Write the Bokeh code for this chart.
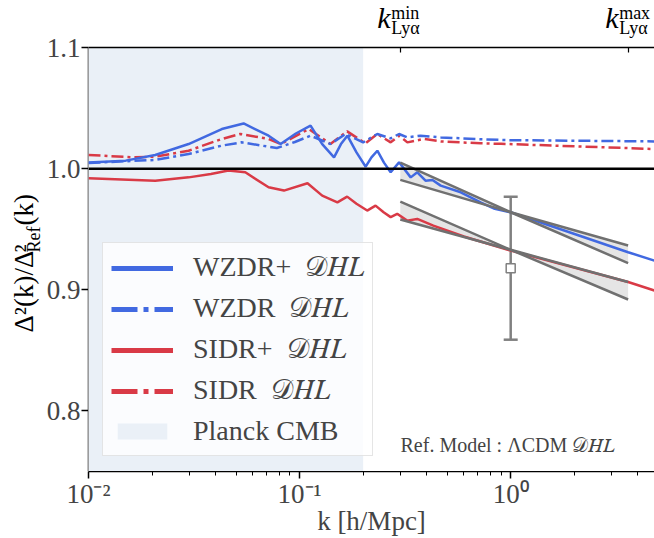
from bokeh.plotting import figure
from bokeh.layouts import row, column
from bokeh.models import (LogAxis, FixedTicker, Legend, LegendItem, Label, Span,
                          Whisker, TeeHead, ColumnDataSource, NumeralTickFormatter,
                          CustomJSTickFormatter, Range1d)
from bokeh.core.properties import value
from bokeh.embed import file_html
from bokeh.resources import INLINE

# ---------------- data ----------------
x_limits = [0.01, 4.8]
y_limits = [0.75, 1.1]
y_ticks = [0.8, 0.9, 1.0, 1.1]
x_major = [0.01, 0.1, 1.0]
ref_level = 1.0
planck_k = [0.01, 0.2]
lya_k = [0.3, 3.6]

# WZDR+ DHL (solid blue)
k_wzdrp = [0.010, 0.015, 0.0207, 0.0298, 0.0428, 0.0543, 0.0713, 0.0813, 0.096, 0.1127,
           0.128, 0.1456, 0.157, 0.1684, 0.186, 0.2056, 0.219, 0.2335, 0.251, 0.270,
           0.296, 0.336, 0.361, 0.395, 0.426, 0.466, 0.58, 0.72, 0.84, 1.0, 3.6, 4.8]
r_wzdrp = [1.0050, 1.0066, 1.0113, 1.0203, 1.0327, 1.0373, 1.0272, 1.0203, 1.0290, 1.0355,
           1.0203, 1.0093, 1.0203, 1.0272, 1.0134, 1.0016, 1.0093, 1.0148, 1.0050, 0.9970,
           1.0052, 0.9928, 0.9970, 0.9901, 0.9907, 0.9860, 0.9805, 0.9722, 0.9668, 0.9640,
           0.9310, 0.9240]

# WZDR DHL (dash-dot blue)
k_wzdr = [0.010, 0.0207, 0.0298, 0.0428, 0.0532, 0.0713, 0.078, 0.095, 0.1127, 0.140,
          0.165, 0.200, 0.2335, 0.270, 0.296, 0.324, 0.374, 0.466, 0.72, 1.0, 4.8]
r_wzdr = [1.0047, 1.0072, 1.0121, 1.0190, 1.0217, 1.0181, 1.0170, 1.0220, 1.0272, 1.0203,
          1.0286, 1.0217, 1.0286, 1.0250, 1.0286, 1.0258, 1.0272, 1.0258, 1.0243, 1.0235,
          1.0225]

# SIDR+ DHL (solid red)
k_sidrp = [0.010, 0.0207, 0.0298, 0.038, 0.046, 0.0553, 0.0713, 0.0843, 0.109, 0.128,
           0.151, 0.168, 0.186, 0.209, 0.229, 0.250, 0.270, 0.290, 0.323, 0.361, 0.43,
           0.60, 1.0, 3.6, 4.8]
r_sidrp = [0.9920, 0.9901, 0.9928, 0.9956, 0.9984, 0.9970, 0.9846, 0.9819, 0.9879, 0.9777,
           0.9722, 0.9769, 0.9710, 0.9654, 0.9695, 0.9640, 0.9600, 0.9627, 0.9571, 0.9585,
           0.9530, 0.9440, 0.9324, 0.9064, 0.8994]

# SIDR DHL (dash-dot red)
k_sidr = [0.010, 0.0163, 0.0207, 0.0298, 0.0428, 0.0523, 0.0713, 0.0813, 0.1106, 0.140,
          0.168, 0.205, 0.2335, 0.270, 0.296, 0.324, 0.388, 0.466, 0.72, 0.90, 4.8]
r_sidr = [1.0113, 1.0093, 1.0099, 1.0148, 1.0245, 1.0286, 1.0245, 1.0203, 1.0327, 1.0203,
          1.0308, 1.0209, 1.0286, 1.0217, 1.0272, 1.0217, 1.0245, 1.0225, 1.0209, 1.0205,
          1.0162]

# Lyman-alpha slope bands (pivot at k = 1)
k_band = [0.3, 1.0, 3.6]
wzdr_band_a = [1.0050, 0.9640, 0.9220]
wzdr_band_b = [0.9907, 0.9640, 0.9365]
sidr_band_a = [0.9728, 0.9330, 0.8920]
sidr_band_b = [0.9580, 0.9330, 0.9064]

# data point with error bar
pt_k = [1.0]
pt_val = [0.9178]
pt_err = [0.0590]

legend_labels = ["WZDR+  𝒟𝐻𝐿", "WZDR  𝒟𝐻𝐿", "SIDR+  𝒟𝐻𝐿", "SIDR  𝒟𝐻𝐿", "Planck CMB"]
ref_text = "Ref. Model : ΛCDM  𝒟𝐻𝐿"
x_label = "k [h/Mpc]"
lya_sup = ["min", "max"]

# ---------------- style / layout ----------------
FONT = "Liberation Serif"
BLUE = "#4169e1"
RED = "#d93a46"
GREY = "#707070"
GREY_ERR = "#808080"
BAND_FILL = "#e5e5e5"
PLANCK_FILL = "#eaf0f7"
DASHDOT = "12 4 3 4"
DASHDOT_LEG = "26 6 5 6"

TITLE_W = 44        # strip with the y-axis title
YAX_W = 44          # strip with the y-axis
MAIN_W = 654 - TITLE_W - YAX_W
TOP_H = 45          # strip with the k_Lya labels
FRAME_T = 47        # top of the plotting frame
BOT_H = 67          # strip with the x-axis
UPPER_H = 538 - BOT_H
MAIN_H = UPPER_H - TOP_H


def bare(fig):
    fig.outline_line_color = None
    fig.grid.grid_line_color = None
    fig.background_fill_color = "white"
    fig.border_fill_color = "white"
    return fig


# ---------------- main plotting area ----------------
p = bare(figure(width=MAIN_W, height=MAIN_H, x_axis_type="log",
                x_range=Range1d(*x_limits), y_range=Range1d(*y_limits),
                output_backend="svg", toolbar_location=None,
                x_axis_location=None, y_axis_location=None,
                min_border_left=0, min_border_right=0, min_border_top=FRAME_T - TOP_H,
                min_border_bottom=0))

planck = p.quad(left=[planck_k[0]], right=[planck_k[1]], bottom=[y_limits[0]], top=[y_limits[1]],
                fill_color=PLANCK_FILL, line_color=None)

p.add_layout(Span(location=ref_level, dimension="width", line_color="black", line_width=2.5))

p.varea(x=k_band, y1=wzdr_band_a, y2=wzdr_band_b, fill_color=BAND_FILL)
p.varea(x=k_band, y1=sidr_band_a, y2=sidr_band_b, fill_color=BAND_FILL)

p.line(k_sidr, r_sidr, line_color=RED, line_width=2.5, line_dash=DASHDOT)
p.line(k_wzdr, r_wzdr, line_color=BLUE, line_width=2.5, line_dash=DASHDOT)
p.line(k_sidrp, r_sidrp, line_color=RED, line_width=2.5)
p.line(k_wzdrp, r_wzdrp, line_color=BLUE, line_width=2.5)

for yy in (wzdr_band_a, wzdr_band_b, sidr_band_a, sidr_band_b):
    p.line(k_band, yy, line_color=GREY, line_width=2.5)

src = ColumnDataSource(dict(k=pt_k, v=pt_val,
                            up=[v + e for v, e in zip(pt_val, pt_err)],
                            lo=[v - e for v, e in zip(pt_val, pt_err)]))
p.add_layout(Whisker(base="k", upper="up", lower="lo", source=src, dimension="height",
                     line_color=GREY_ERR, line_width=2.5,
                     upper_head=TeeHead(size=14, line_color=GREY_ERR, line_width=2.5),
                     lower_head=TeeHead(size=14, line_color=GREY_ERR, line_width=2.5)))
p.scatter("k", "v", source=src, marker="square", size=9, fill_color="white",
          line_color=GREY_ERR, line_width=1.5)

# legend (hidden copies give thicker handles)
lg1 = p.line(k_wzdrp, r_wzdrp, line_color=BLUE, line_width=5, visible=False)
lg2 = p.line(k_wzdr, r_wzdr, line_color=BLUE, line_width=5, line_dash=DASHDOT_LEG, visible=False)
lg3 = p.line(k_sidrp, r_sidrp, line_color=RED, line_width=5, visible=False)
lg4 = p.line(k_sidr, r_sidr, line_color=RED, line_width=5, line_dash=DASHDOT_LEG, visible=False)
legend = Legend(items=[LegendItem(label=legend_labels[0], renderers=[lg1]),
                       LegendItem(label=legend_labels[1], renderers=[lg2]),
                       LegendItem(label=legend_labels[2], renderers=[lg3]),
                       LegendItem(label=legend_labels[3], renderers=[lg4]),
                       LegendItem(label=legend_labels[4], renderers=[planck])],
                location=(14, 15), glyph_width=62, glyph_height=20, label_height=30,
                label_standoff=20, label_text_font=FONT, label_text_font_size="28px",
                spacing=8, padding=8, margin=0, border_line_color="#cccccc",
                border_line_width=1, background_fill_color="white", background_fill_alpha=0.8)
p.add_layout(legend)

top = LogAxis(ticker=FixedTicker(ticks=lya_k, minor_ticks=[]), major_tick_in=5, major_tick_out=0,
              formatter=CustomJSTickFormatter(code="return '';"),
              major_label_text_font_size="1px", major_label_standoff=0,
              axis_line_width=1.5, major_tick_line_width=1.2,
              minor_tick_line_color=None)
p.add_layout(top, "above")

p.add_layout(Label(x=x_limits[0], y=y_limits[0], text=ref_text, text_font=FONT,
                   text_font_size="20px", x_offset=312, y_offset=16))

# ---------------- top strip: k_Lya^min / k_Lya^max ----------------
top_fig = bare(figure(width=MAIN_W, height=TOP_H, x_axis_type="log", x_range=p.x_range,
                      y_range=Range1d(0, 1), output_backend="svg", toolbar_location=None,
                      x_axis_location=None, y_axis_location=None,
                      min_border_left=0, min_border_right=0, min_border_top=0,
                      min_border_bottom=0))
n = len(lya_k)
top_fig.text(x=lya_k, y=[0] * n, text=["k"] * n, text_font=value(FONT),
             text_font_style="italic", text_font_size="30px", x_offset=-23, y_offset=-12)
top_fig.text(x=lya_k, y=[0] * n, text=lya_sup, text_font=value(FONT),
             text_font_size="18px", x_offset=-9, y_offset=-23)
top_fig.text(x=lya_k, y=[0] * n, text=["Lyα"] * n, text_font=value(FONT),
             text_font_size="18px", x_offset=-9, y_offset=-8)

# ---------------- y-axis strip ----------------
yax_fig = bare(figure(width=YAX_W, height=UPPER_H, x_range=Range1d(0, 1), y_range=p.y_range,
                      output_backend="svg", toolbar_location=None,
                      x_axis_location=None, y_axis_location="left",
                      min_border_left=YAX_W - 1, min_border_right=0, min_border_top=FRAME_T,
                      min_border_bottom=0))
yax = yax_fig.yaxis[0]
yax.ticker = FixedTicker(ticks=y_ticks)
yax.formatter = NumeralTickFormatter(format="0.0")
yax.major_label_text_font = FONT
yax.major_label_text_font_size = "27px"
yax.major_tick_out = 7
yax.major_tick_in = 0
yax.minor_tick_line_color = None
yax.axis_line_width = 1.5
yax.major_tick_line_width = 1.5
yax.major_label_standoff = 1

# ---------------- y-title strip ----------------
title_fig = bare(figure(width=TITLE_W, height=UPPER_H, x_range=Range1d(0, 1), y_range=p.y_range,
                        output_backend="svg", toolbar_location=None,
                        x_axis_location=None, y_axis_location=None,
                        min_border_left=0, min_border_right=0, min_border_top=FRAME_T,
                        min_border_bottom=0))
yc = (y_limits[0] + y_limits[1]) / 2
for txt, size, dx, dy in [("Δ²(k)/Δ", "27px", -6, 73), ("²", "27px", -6, -7),
                          ("Ref", "18px", -1, -7), ("(k)", "27px", -6, -34)]:
    title_fig.text(x=[1], y=[yc], text=[txt], text_font=value(FONT), text_font_size=size,
                   angle=90, angle_units="deg", x_offset=dx, y_offset=dy)

# ---------------- x-axis strip ----------------
bot_fig = bare(figure(width=654, height=BOT_H, x_axis_type="log", x_range=p.x_range,
                      y_range=Range1d(0, 1), output_backend="svg", toolbar_location=None,
                      x_axis_location="below", y_axis_location=None,
                      min_border_left=TITLE_W + YAX_W, min_border_right=0, min_border_top=0,
                      min_border_bottom=BOT_H - 1))
minor = [m * d for d in x_major for m in range(2, 10) if m * d <= x_limits[1]]
xax = bot_fig.xaxis[0]
xax.ticker = FixedTicker(ticks=x_major, minor_ticks=minor)
xax.formatter = CustomJSTickFormatter(code="""
const e = Math.round(Math.log10(tick));
const sup = {"-":"\u207b","0":"\u2070","1":"\u00b9","2":"\u00b2","3":"\u00b3","4":"\u2074",
             "5":"\u2075","6":"\u2076","7":"\u2077","8":"\u2078","9":"\u2079"};
return "10" + String(e).split("").map(c => sup[c]).join("");
""")
xax.major_label_text_font = FONT
xax.major_label_text_font_size = "27px"
xax.major_tick_out = 7
xax.major_tick_in = 0
xax.minor_tick_out = 4
xax.minor_tick_in = 0
xax.axis_line_width = 1.5
xax.major_tick_line_width = 1.5
xax.minor_tick_line_width = 1
xax.major_label_standoff = 0
xax.axis_label = x_label
xax.axis_label_text_font = FONT
xax.axis_label_text_font_size = "27px"
xax.axis_label_text_font_style = "normal"
xax.axis_label_standoff = -6

layout = column(row(title_fig, yax_fig, column(top_fig, p, spacing=0), spacing=0),
                bot_fig, spacing=0)
open("out.html", "w").write(file_html(layout, INLINE))
